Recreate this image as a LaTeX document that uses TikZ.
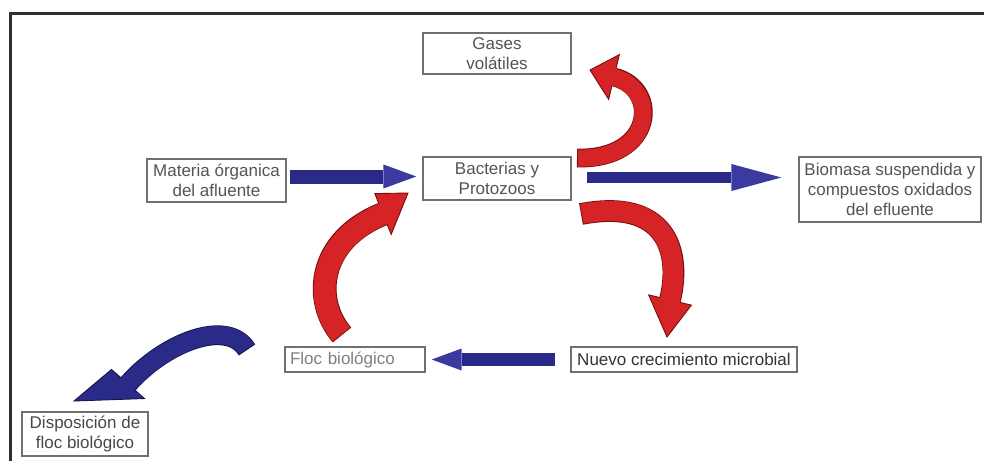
\documentclass[tikz,border=0pt]{standalone}
\usepackage{fontspec}
\setmainfont{Liberation Sans}
\usetikzlibrary{calc}

\definecolor{navyFill}{RGB}{42,42,136}
\definecolor{navyHead}{RGB}{58,58,160}
\definecolor{navyEdge}{RGB}{22,22,78}
\definecolor{redFill}{RGB}{214,36,38}
\definecolor{redEdge}{RGB}{118,14,16}
\definecolor{boxLine}{RGB}{112,112,112}
\definecolor{frameLine}{RGB}{48,48,48}
\definecolor{labelText}{RGB}{84,84,84}

\tikzset{
  box/.style={draw=boxLine, line width=1.3pt, fill=white, inner sep=2pt,
    align=center, font=\fontsize{17}{20}\selectfont, text=labelText},
}

% Straight block arrow: start, tip, half shaft width, half head width, head length
\newcommand{\straightblock}[5]{%
  \coordinate (sbA) at #1;
  \coordinate (sbB) at #2;
  \coordinate (sbH) at ($(sbB)!#5!(sbA)$);
  \fill[navyFill] ($(sbA)!#3!90:(sbB)$) -- ($(sbH)!#3!-90:(sbA)$)
    -- ($(sbH)!#3!90:(sbA)$) -- ($(sbA)!#3!-90:(sbB)$) -- cycle;
  \fill[navyHead] ($(sbH)!#4!-90:(sbA)$) -- (sbB) -- ($(sbH)!#4!90:(sbA)$) -- cycle;
}

% Curved block arrow along a cubic curve P0..P3, with its own tip point.
% #6 band width, #7 half head base, #8 colour prefix (Fill / Edge)
\newcommand{\curvedblock}[8]{%
  \coordinate (cb0) at #1;
  \coordinate (cb1) at #2;
  \coordinate (cb2) at #3;
  \coordinate (cb3) at #4;
  \coordinate (cbT) at #5;
  \pgfmathsetmacro{\cbout}{#6+1.8}
  \draw[line width=\cbout pt, #8Edge] (cb0) .. controls (cb1) and (cb2) .. (cb3);
  \filldraw[fill=#8Fill, draw=#8Edge, line width=0.9pt, line join=miter]
    ($(cb3)!#7!-90:(cb2)$) -- (cbT) -- ($(cb3)!#7!90:(cb2)$) -- cycle;
  \draw[line width=#6pt, #8Fill, shorten >=-2pt, shorten <=0.9pt]
    (cb0) .. controls (cb1) and (cb2) .. (cb3);
}

\begin{document}
\begin{tikzpicture}[x=1pt, y=-1pt]
\useasboundingbox (0,0) rectangle (984,461);
\fill[white] (0,0) rectangle (984,461);

% outer frame (top and left edges)
\draw[frameLine, line width=3pt] (10,461) -- (10,13) -- (984,13);

% boxes
\node[box, minimum width=148pt, minimum height=41pt] (gases) at (497,53.5) {Gases\\volátiles};
\node[box, minimum width=148pt, minimum height=43pt] (bact) at (497,178.5) {Bacterias y\\Protozoos};
\node[box, minimum width=139pt, minimum height=43pt] (mat) at (216.5,180.5) {Materia órganica\\del afluente};
\node[box, minimum width=182pt, minimum height=65pt] (bio) at (890,189.5) {Biomasa suspendida y\\compuestos oxidados\\del efluente};
\node[box, minimum width=140pt, minimum height=25pt, text width=130pt, align=left,
      text=gray] (floc) at (355,359.5) {Floc biológico};
\node[box, minimum width=226pt, minimum height=25pt, text=black!80] (nuevo) at (684,359.5) {Nuevo crecimiento microbial};
\node[box, minimum width=126pt, minimum height=44pt, text=black!72] (disp) at (85,434) {Disposición de\\floc biológico};

% straight flows
\straightblock{([xshift=3pt,yshift=4pt]mat.east)}{([xshift=-6pt,yshift=4pt]mat.east -| bact.west)}{7pt}{12pt}{33pt}
\straightblock{([xshift=15pt,yshift=1pt]bact.east)}{([xshift=-17pt,yshift=1pt]bact.east -| bio.west)}{5.5pt}{13.5pt}{50pt}
\straightblock{([xshift=-15pt]nuevo.west)}{([xshift=6pt]floc.east)}{6.5pt}{11pt}{30pt}

% curved flows
\curvedblock{(577,158)}{(655,160)}{(660,88)}{(614,77)}{(590,70)}{17}{23pt}{red}
\curvedblock{(581,214)}{(665,198)}{(682,250)}{(670,300)}{(667,337)}{20}{22pt}{red}
\curvedblock{(342,335)}{(312,300)}{(318,240)}{(383,214)}{(408,193)}{22}{22pt}{red}
\curvedblock{(247,350)}{(228,318)}{(165,342)}{(128,384)}{(74,401)}{18}{22pt}{navy}
\end{tikzpicture}
\end{document}
